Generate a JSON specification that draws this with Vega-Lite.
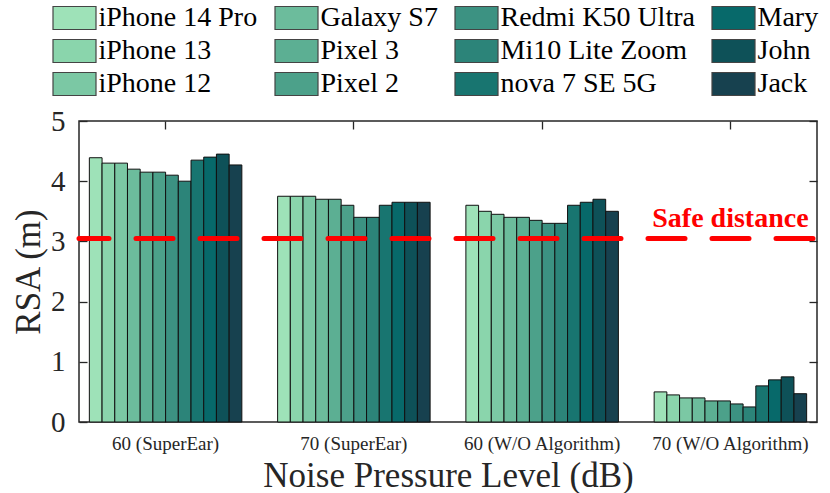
{
  "$schema": "https://vega.github.io/schema/vega-lite/v6.json",
  "width": 738,
  "height": 301,
  "autosize": {"type": "none"},
  "padding": {"left": 79, "top": 121, "right": 13, "bottom": 71},
  "background": "white",
  "config": {
    "font": "Liberation Serif",
    "view": {"stroke": "#262626", "strokeWidth": 1.5},
    "axis": {
      "domain": false,
      "grid": false,
      "ticks": true,
      "tickColor": "#262626",
      "tickSize": 8,
      "tickWidth": 1.3,
      "offset": -8,
      "labelColor": "#262626",
      "titleColor": "#262626",
      "labelFont": "Liberation Serif",
      "titleFont": "Liberation Serif",
      "titleFontWeight": "normal"
    }
  },
  "data": {
    "values": [
      {"group": "60 (SuperEar)", "device": "iPhone 14 Pro", "rsa": 4.39},
      {"group": "60 (SuperEar)", "device": "iPhone 13", "rsa": 4.3},
      {"group": "60 (SuperEar)", "device": "iPhone 12", "rsa": 4.3},
      {"group": "60 (SuperEar)", "device": "Galaxy S7", "rsa": 4.2},
      {"group": "60 (SuperEar)", "device": "Pixel 3", "rsa": 4.15},
      {"group": "60 (SuperEar)", "device": "Pixel 2", "rsa": 4.15},
      {"group": "60 (SuperEar)", "device": "Redmi K50 Ultra", "rsa": 4.1},
      {"group": "60 (SuperEar)", "device": "Mi10 Lite Zoom", "rsa": 4.0},
      {"group": "60 (SuperEar)", "device": "nova 7 SE 5G", "rsa": 4.35},
      {"group": "60 (SuperEar)", "device": "Mary", "rsa": 4.4},
      {"group": "60 (SuperEar)", "device": "John", "rsa": 4.45},
      {"group": "60 (SuperEar)", "device": "Jack", "rsa": 4.27},
      {"group": "70 (SuperEar)", "device": "iPhone 14 Pro", "rsa": 3.75},
      {"group": "70 (SuperEar)", "device": "iPhone 13", "rsa": 3.75},
      {"group": "70 (SuperEar)", "device": "iPhone 12", "rsa": 3.75},
      {"group": "70 (SuperEar)", "device": "Galaxy S7", "rsa": 3.7},
      {"group": "70 (SuperEar)", "device": "Pixel 3", "rsa": 3.7},
      {"group": "70 (SuperEar)", "device": "Pixel 2", "rsa": 3.6},
      {"group": "70 (SuperEar)", "device": "Redmi K50 Ultra", "rsa": 3.4},
      {"group": "70 (SuperEar)", "device": "Mi10 Lite Zoom", "rsa": 3.4},
      {"group": "70 (SuperEar)", "device": "nova 7 SE 5G", "rsa": 3.6},
      {"group": "70 (SuperEar)", "device": "Mary", "rsa": 3.65},
      {"group": "70 (SuperEar)", "device": "John", "rsa": 3.65},
      {"group": "70 (SuperEar)", "device": "Jack", "rsa": 3.65},
      {"group": "60 (W/O Algorithm)", "device": "iPhone 14 Pro", "rsa": 3.6},
      {"group": "60 (W/O Algorithm)", "device": "iPhone 13", "rsa": 3.5},
      {"group": "60 (W/O Algorithm)", "device": "iPhone 12", "rsa": 3.45},
      {"group": "60 (W/O Algorithm)", "device": "Galaxy S7", "rsa": 3.4},
      {"group": "60 (W/O Algorithm)", "device": "Pixel 3", "rsa": 3.4},
      {"group": "60 (W/O Algorithm)", "device": "Pixel 2", "rsa": 3.35},
      {"group": "60 (W/O Algorithm)", "device": "Redmi K50 Ultra", "rsa": 3.3},
      {"group": "60 (W/O Algorithm)", "device": "Mi10 Lite Zoom", "rsa": 3.3},
      {"group": "60 (W/O Algorithm)", "device": "nova 7 SE 5G", "rsa": 3.6},
      {"group": "60 (W/O Algorithm)", "device": "Mary", "rsa": 3.65},
      {"group": "60 (W/O Algorithm)", "device": "John", "rsa": 3.7},
      {"group": "60 (W/O Algorithm)", "device": "Jack", "rsa": 3.5},
      {"group": "70 (W/O Algorithm)", "device": "iPhone 14 Pro", "rsa": 0.5},
      {"group": "70 (W/O Algorithm)", "device": "iPhone 13", "rsa": 0.45},
      {"group": "70 (W/O Algorithm)", "device": "iPhone 12", "rsa": 0.4},
      {"group": "70 (W/O Algorithm)", "device": "Galaxy S7", "rsa": 0.4},
      {"group": "70 (W/O Algorithm)", "device": "Pixel 3", "rsa": 0.35},
      {"group": "70 (W/O Algorithm)", "device": "Pixel 2", "rsa": 0.35},
      {"group": "70 (W/O Algorithm)", "device": "Redmi K50 Ultra", "rsa": 0.3},
      {"group": "70 (W/O Algorithm)", "device": "Mi10 Lite Zoom", "rsa": 0.25},
      {"group": "70 (W/O Algorithm)", "device": "nova 7 SE 5G", "rsa": 0.6},
      {"group": "70 (W/O Algorithm)", "device": "Mary", "rsa": 0.7},
      {"group": "70 (W/O Algorithm)", "device": "John", "rsa": 0.75},
      {"group": "70 (W/O Algorithm)", "device": "Jack", "rsa": 0.47}
    ]
  },
  "layer": [
    {
      "mark": {"type": "point", "opacity": 0},
      "encoding": {
        "x": {
          "field": "group",
          "type": "nominal",
          "sort": ["60 (SuperEar)", "70 (SuperEar)", "60 (W/O Algorithm)", "70 (W/O Algorithm)"],
          "axis": {"orient": "bottom", "labels": false, "title": null}
        },
        "y": {
          "field": "rsa",
          "type": "quantitative",
          "axis": {"orient": "left", "labels": false, "title": null, "values": [0, 1, 2, 3, 4, 5]}
        }
      }
    },
    {
      "mark": {"type": "bar", "stroke": "#111", "strokeWidth": 1, "fillOpacity": 1},
      "encoding": {
        "x": {
          "field": "group",
          "type": "nominal",
          "sort": ["60 (SuperEar)", "70 (SuperEar)", "60 (W/O Algorithm)", "70 (W/O Algorithm)"],
          "scale": {"domain": ["60 (SuperEar)", "70 (SuperEar)", "60 (W/O Algorithm)", "70 (W/O Algorithm)"], "paddingInner": 0.19, "paddingOuter": 0.055},
          "axis": {
            "orient": "bottom",
            "offset": 0,
            "ticks": false,
            "labelAngle": 0,
            "labelFontSize": 19,
            "labelPadding": 12,
            "title": "Noise Pressure Level (dB)",
            "titleFontSize": 35,
            "titlePadding": 5
          }
        },
        "xOffset": {
          "field": "device",
          "type": "nominal",
          "sort": ["iPhone 14 Pro", "iPhone 13", "iPhone 12", "Galaxy S7", "Pixel 3", "Pixel 2", "Redmi K50 Ultra", "Mi10 Lite Zoom", "nova 7 SE 5G", "Mary", "John", "Jack"],
          "scale": {"paddingInner": 0, "paddingOuter": 0}
        },
        "y": {
          "field": "rsa",
          "type": "quantitative",
          "scale": {"domain": [0, 5], "nice": false},
          "axis": {
            "orient": "left",
            "offset": 0,
            "ticks": false,
            "values": [0, 1, 2, 3, 4, 5],
            "labelFontSize": 29,
            "labelPadding": 14,
            "title": "RSA (m)",
            "titleFontSize": 35,
            "titlePadding": 4
          }
        },
        "color": {
          "field": "device",
          "type": "nominal",
          "scale": {
            "domain": ["iPhone 14 Pro", "iPhone 13", "iPhone 12", "Galaxy S7", "Pixel 3", "Pixel 2", "Redmi K50 Ultra", "Mi10 Lite Zoom", "nova 7 SE 5G", "Mary", "John", "Jack"],
            "range": ["#9ee2b8", "#8ad5ac", "#7bc8a4", "#6cbc9c", "#5caf93", "#4ca18a", "#3c9282", "#2c8479", "#187570", "#07696a", "#0e5158", "#17414f"]
          },
          "legend": {
            "orient": "none",
            "legendX": -30,
            "legendY": -117,
            "columns": 4,
            "title": null,
            "padding": 0,
            "columnPadding": 13,
            "rowPadding": 5,
            "symbolType": "M-2.15,-1.15H2.15V1.15H-2.15Z",
            "symbolSize": 400,
            "symbolOffset": 11.5,
            "symbolStrokeColor": "#444",
            "symbolStrokeWidth": 1.2,
            "symbolOpacity": 1,
            "labelFont": "Liberation Serif",
            "labelFontSize": 28,
            "labelColor": "#000",
            "labelLimit": 0,
            "labelOffset": 10
          }
        }
      }
    },
    {
      "mark": {"type": "point", "opacity": 0},
      "encoding": {
        "x": {
          "field": "group",
          "type": "nominal",
          "sort": ["60 (SuperEar)", "70 (SuperEar)", "60 (W/O Algorithm)", "70 (W/O Algorithm)"],
          "axis": {"orient": "top", "labels": false, "title": null}
        },
        "y": {
          "field": "rsa",
          "type": "quantitative",
          "axis": {"orient": "right", "labels": false, "title": null, "values": [0, 1, 2, 3, 4, 5]}
        }
      }
    },
    {
      "data": {"values": [{"threshold": 3.05}]},
      "mark": {"type": "rule", "color": "#ff0000", "strokeWidth": 5, "strokeDash": [37, 27], "strokeDashOffset": -4, "strokeCap": "round"},
      "encoding": {
        "y": {"field": "threshold", "type": "quantitative", "axis": null}
      }
    },
    {
      "data": {"values": [{"label": "Safe distance", "group": "70 (W/O Algorithm)", "pos": 3.24}]},
      "mark": {"type": "text", "color": "#ff0000", "font": "Liberation Serif", "fontWeight": "bold", "fontSize": 28, "align": "center", "baseline": "alphabetic"},
      "encoding": {
        "x": {"field": "group", "type": "nominal", "axis": null, "sort": ["60 (SuperEar)", "70 (SuperEar)", "60 (W/O Algorithm)", "70 (W/O Algorithm)"]},
        "y": {"field": "pos", "type": "quantitative", "axis": null},
        "text": {"field": "label"}
      }
    }
  ],
  "resolve": {"axis": {"x": "independent", "y": "independent"}}
}
